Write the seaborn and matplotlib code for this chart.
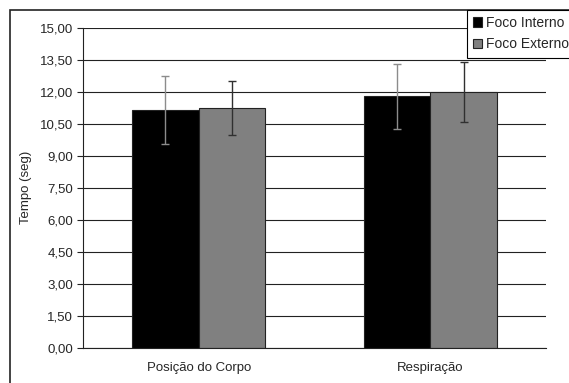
import pandas as pd
import matplotlib
matplotlib.use('Agg')
import matplotlib.pyplot as plt
import seaborn as sns
from matplotlib.patches import Patch, Rectangle
from matplotlib.ticker import FixedLocator

# Dados
categorias = ['Posição do Corpo', 'Respiração']
grupos = ['Foco Interno', 'Foco Externo']
media_interno = [11.15, 11.78]
media_externo = [11.24, 11.98]
dp_interno = [1.60, 1.52]
dp_externo = [1.25, 1.40]
yticks = [0, 1.5, 3, 4.5, 6, 7.5, 9, 10.5, 12, 13.5, 15]

df = pd.DataFrame({
    'categoria': categorias * 2,
    'grupo': [grupos[0]] * 2 + [grupos[1]] * 2,
    'tempo': media_interno + media_externo,
    'dp': dp_interno + dp_externo,
})

sns.set_style('white')
plt.rcParams['font.family'] = ['Liberation Sans', 'DejaVu Sans']
plt.rcParams['font.size'] = 9.5

cores = {'Foco Interno': '#000000', 'Foco Externo': '#808080'}
cores_erro = {'Foco Interno': '#8c8c8c', 'Foco Externo': '#303030'}

fig = plt.figure(figsize=(5.69, 3.83), dpi=100)
ax = fig.add_axes([83 / 569, 1 - 347.7 / 383, (546 - 83) / 569, (347.7 - 27.7) / 383])

sns.barplot(data=df, x='categoria', y='tempo', hue='grupo', order=categorias,
            hue_order=grupos, palette=cores, errorbar=None, width=0.576,
            saturation=1, edgecolor='#222222', linewidth=0.8, ax=ax, legend=False)

# barras de erro a partir das posições das barras
for container, g in zip(ax.containers, grupos):
    sub = df[df['grupo'] == g].set_index('categoria').loc[categorias]
    xs = [p.get_x() + p.get_width() / 2 for p in container]
    ax.errorbar(xs, sub['tempo'], yerr=sub['dp'], fmt='none',
                ecolor=cores_erro[g], elinewidth=1.0, capsize=3, capthick=1.0, zorder=5)

ax.set_ylim(0, 15)
ax.set_xlim(-0.5, 1.5)
ax.set_yticks(yticks)
ax.set_yticklabels([f'{v:.2f}'.replace('.', ',') for v in yticks])
ax.yaxis.grid(True, color='#222222', linewidth=0.8)
ax.set_axisbelow(True)
ax.set_xlabel('')
ax.set_ylabel('Tempo (seg)', labelpad=6)

# ticks do eixo x nas divisas das categorias
ax.xaxis.set_minor_locator(FixedLocator([-0.5, 0.5, 1.5]))
ax.tick_params(axis='x', which='major', length=0, pad=10)
ax.tick_params(axis='x', which='minor', length=4, width=0.8, color='#222222', direction='out')
ax.tick_params(axis='y', length=4, width=0.8, color='#222222', direction='out', left=True, pad=3)

for lado in ['top', 'right']:
    ax.spines[lado].set_visible(False)
for lado in ['left', 'bottom']:
    ax.spines[lado].set_color('#222222')
    ax.spines[lado].set_linewidth(0.8)

# moldura externa
fig.patches.append(Rectangle((10 / 569, -0.1), 1.0, 1.1 - 10 / 383, transform=fig.transFigure,
                             fill=False, edgecolor='#222222', linewidth=1.2))

# legenda (sai pela borda direita, como no original)
handles = [Patch(facecolor=cores[g], edgecolor='#222222', linewidth=0.8) for g in grupos]
leg = fig.legend(handles, grupos, loc='upper left', bbox_to_anchor=(466.7 / 569, 1 - 9.5 / 383),
                 bbox_transform=fig.transFigure, frameon=True, fancybox=False,
                 edgecolor='#000000', framealpha=1, handlelength=0.67, handleheight=0.67,
                 handletextpad=0.3, borderpad=0.45, labelspacing=0.55, borderaxespad=0,
                 fontsize=10)
leg.get_frame().set_linewidth(0.8)

fig.savefig('out.png', dpi=100)
